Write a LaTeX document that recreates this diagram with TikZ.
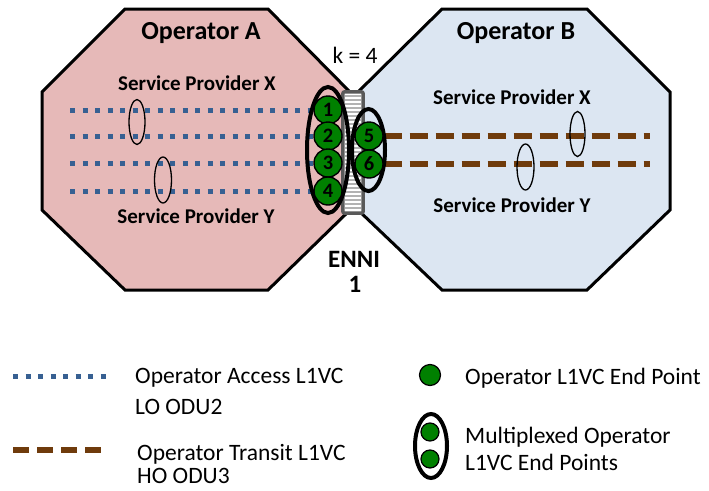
\documentclass[tikz,border=0pt]{standalone}
\usepackage{fontspec}
\setmainfont{Carlito}
\usepackage{xcolor}
\usepackage{tikz}
\usetikzlibrary{positioning}
\pgfdeclarelayer{back}
\pgfsetlayers{back,main}
\definecolor{opApink}{HTML}{E6B9B8}
\definecolor{opBblue}{HTML}{DCE6F2}
\definecolor{accessblue}{HTML}{376092}
\definecolor{transitbrown}{HTML}{6F3B0C}
\definecolor{eptgreen}{HTML}{008000}
\definecolor{ennigray}{HTML}{595959}
\tikzset{
  opdomA/.style={draw=black, line width=3pt, fill=opApink, line join=miter},
  opdomB/.style={draw=black, line width=3pt, fill=opBblue, line join=miter},
  accessl/.style={line width=5pt, draw=accessblue, dash pattern=on 5pt off 7.5pt},
  transitl/.style={line width=6pt, draw=transitbrown, dash pattern=on 18pt off 8pt},
  ept/.style={circle, draw=black, line width=1.4pt, fill=eptgreen, minimum size=28pt, inner sep=0pt, font=\bfseries\fontsize{20.5}{20.5}\selectfont},
  eptleg/.style={circle, draw=black, line width=1.2pt, fill=eptgreen, inner sep=0pt},
  grp/.style={draw=black, line width=1.3pt},
  mux/.style={draw=black, line width=4pt},
  ennibar/.style={rectangle, fill=white, minimum width=20pt, minimum height=121pt, inner sep=0pt},
  ennistripe/.style={draw=gray!60, line width=1.8pt},
  enniframe/.style={draw=ennigray, line width=3.5pt, rounded corners=2pt},
  oplabel/.style={anchor=base, font=\bfseries\fontsize{26}{30}\selectfont},
  splabel/.style={anchor=base, font=\bfseries\fontsize{21}{25}\selectfont},
  legtext/.style={anchor=base west, inner sep=0pt, font=\fontsize{23.5}{28}\selectfont},
}

\begin{document}
\begin{tikzpicture}[x=1pt, y=-1pt]
\useasboundingbox (0,0) rectangle (709,490);
\node[oplabel] (opA) at (201,39) {Operator A};
\node[oplabel] (opB) at (516,39) {Operator B};
\node[splabel] (spAx) at (197,90) {Service Provider X};
\node[splabel] (spAy) at (196,223) {Service Provider Y};
\node[splabel] (spBx) at (512,104) {Service Provider X};
\node[splabel] (spBy) at (512,212) {Service Provider Y};
\node[anchor=base, font=\fontsize{23.5}{28}\selectfont] (kval) at (355,63) {k = 4};
\node[oplabel, font=\bfseries\fontsize{25}{30}\selectfont] (enniA) at (354,267) {ENNI};
\node[oplabel, font=\bfseries\fontsize{25}{30}\selectfont] (enniB) at (355,292) {1};

% ENNI
\node[ennibar] (bar) at (353,152.5) {};
\foreach \sy in {96,100,...,210}
  \draw[ennistripe] (345,\sy) -- (361,\sy);
\draw[enniframe] (bar.south west) rectangle (bar.north east);

\draw[mux] (328,150) ellipse [x radius=21pt, y radius=63pt];
\draw[mux] (368.5,150) ellipse [x radius=16.5pt, y radius=41pt];

% end points
\node[ept] (c1) at (328,110) {1};
\node[ept] (c2) at (328,136) {2};
\node[ept] (c3) at (328,163) {3};
\node[ept] (c4) at (328,191) {4};
\node[ept] (c5) at (369,136) {5};
\node[ept] (c6) at (369,164) {6};

\coordinate (a1) at (70,110);
\coordinate (a2) at (70,136);
\coordinate (a3) at (70,163);
\coordinate (a4) at (70,191);
\coordinate (t5) at (650,136);
\coordinate (t6) at (650,164);

% operator domains
\begin{pgfonlayer}{back}
\draw[opdomA] (125,9) -- (268,9) -- (350,92) -- (350,210) -- (268,290) -- (125,290) -- (42,210) -- (42,92) -- cycle;
\draw[opdomB] (442,9) -- (587,9) -- (670,92) -- (670,210) -- (587,290) -- (442,290) -- (358,210) -- (358,92) -- cycle;
\foreach \i in {1,...,4}
  \draw[accessl] (a\i) -- (c\i);
\draw[transitl] (c5) -- (t5);
\draw[transitl] (c6) -- (t6);
\end{pgfonlayer}

% service provider groups
\draw[grp] (137,122) ellipse [x radius=8pt, y radius=22.5pt];
\draw[grp] (163,180) ellipse [x radius=8.5pt, y radius=23pt];
\draw[grp] (577.5,134) ellipse [x radius=7.5pt, y radius=22.5pt];
\draw[grp] (525.5,167) ellipse [x radius=8.5pt, y radius=23pt];

% legend
\coordinate (la) at (13,376);
\coordinate (lb) at (106,376);
\coordinate (lc) at (13,450);
\coordinate (ld) at (106,450);
\draw[accessl] (la) -- (lb);
\draw[transitl, dash pattern=on 16pt off 8pt] (lc) -- (ld);
\node[legtext] (la1) at (135,383) {Operator Access L1VC};
\node[legtext] (la2) at (135,414) {LO ODU2};
\node[legtext] (lt1) at (137,460) {Operator Transit L1VC};
\node[legtext] (lt2) at (137,483) {HO ODU3};

\node[eptleg, minimum size=21pt] (le) at (430,375) {};
\node[legtext] (le1) at (465,384) {Operator L1VC End Point};
\draw[mux] (431,446) ellipse [x radius=16pt, y radius=32pt];
\node[eptleg, minimum size=18pt] (lm1) at (430,432) {};
\node[eptleg, minimum size=18pt] (lm2) at (430,459) {};
\node[legtext] (lx1) at (465,443) {Multiplexed Operator};
\node[legtext] (lx2) at (465,470) {L1VC End Points};
\end{tikzpicture}
\end{document}
